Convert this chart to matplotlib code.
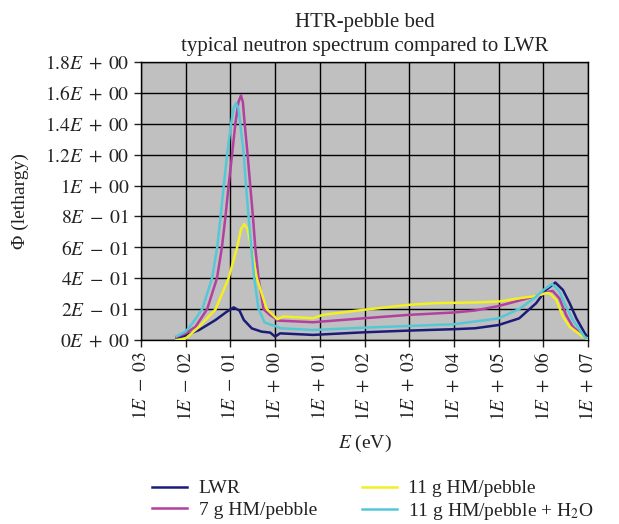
import numpy as np
import matplotlib
matplotlib.use("Agg")
import matplotlib.pyplot as plt

plt.rcParams['font.family'] = ['Liberation Serif', 'DejaVu Serif']
plt.rcParams['mathtext.fontset'] = 'stix'

# energies (eV) and flux per lethargy
lwr_e = [0.0063, 0.01, 0.02, 0.0468, 0.08, 0.1186, 0.16, 0.1995, 0.302, 0.501, 0.776,
         1.0, 1.29, 7.08, 100, 1000, 1e4, 3.0e4, 1e5, 2.88e5, 6.9e5, 1.15e6, 1.86e6,
         2.75e6, 3.89e6, 5.5e6, 8.5e6, 1e7]
lwr_y = [0.01, 0.03, 0.065, 0.13, 0.18, 0.211, 0.19, 0.13, 0.075, 0.054, 0.048,
         0.022, 0.043, 0.033, 0.05, 0.061, 0.07, 0.076, 0.097, 0.14, 0.238, 0.324, 0.372,
         0.324, 0.238, 0.14, 0.043, 0.015]

g7_e = [0.0063, 0.01, 0.0166, 0.0302, 0.0501, 0.0646, 0.0776, 0.0912, 0.109, 0.129,
        0.151, 0.1726, 0.19, 0.209, 0.2427, 0.278, 0.319, 0.36, 0.4266, 0.55, 0.78,
        1.0, 1.12, 7.08, 100, 1000, 1e4, 3e4, 1e5, 2.88e5, 6.9e5, 1.38e6, 1.62e6,
        2.29e6, 3.24e6, 4.57e6, 8.5e6, 1e7]
g7_y = [0.02, 0.043, 0.086, 0.2, 0.4, 0.6, 0.8, 1.0, 1.2, 1.4,
        1.54, 1.584, 1.54, 1.4, 1.2, 1.0, 0.8, 0.6, 0.4, 0.2, 0.16,
        0.141, 0.126, 0.115, 0.141, 0.163, 0.178, 0.191, 0.22, 0.255, 0.285, 0.314, 0.318,
        0.27, 0.162, 0.086, 0.017, 0.01]

g11_e = [0.0063, 0.01, 0.02, 0.0468, 0.0912, 0.141, 0.174, 0.2046, 0.24, 0.293, 0.389,
         0.653, 0.912, 1.12, 1.53, 7.08, 11.7, 100, 1000, 3980, 3e4, 1e5, 2.88e5,
         6.9e5, 1.15e6, 1.38e6, 1.95e6, 2.75e6, 3.89e6, 7.76e6, 1e7]
g11_y = [0.0, 0.01, 0.086, 0.2, 0.4, 0.6, 0.72, 0.75, 0.72, 0.6, 0.4,
         0.2, 0.16, 0.135, 0.152, 0.141, 0.163, 0.196, 0.228, 0.239, 0.243, 0.249, 0.27,
         0.285, 0.303, 0.303, 0.26, 0.151, 0.086, 0.02, 0.005]

h2o_e = [0.0063, 0.01, 0.0141, 0.0234, 0.0389, 0.0506, 0.0603, 0.0711, 0.0843, 0.1035,
         0.1175, 0.1337, 0.151, 0.166, 0.1995, 0.223, 0.255, 0.293, 0.341, 0.4266, 0.579,
         0.776, 1.0, 1.29, 7.08, 100, 1000, 1e4, 3e4, 1e5, 2.88e5, 6.9e5, 1.07e6,
         1.58e6, 2.29e6, 3.24e6, 4.57e6, 8.5e6, 1e7]
h2o_y = [0.025, 0.055, 0.108, 0.2, 0.4, 0.6, 0.8, 1.0, 1.2, 1.4,
         1.50, 1.534, 1.50, 1.4, 1.2, 1.0, 0.8, 0.6, 0.4, 0.2, 0.115,
         0.1, 0.091, 0.076, 0.065, 0.08, 0.091, 0.102, 0.12, 0.14, 0.2, 0.28, 0.33,
         0.363, 0.314, 0.216, 0.13, 0.017, 0.01]

yticks = [0.0, 0.2, 0.4, 0.6, 0.8, 1.0, 1.2, 1.4, 1.6, 1.8]
ytick_labels = ['0E+00', '2E-01', '4E-01', '6E-01', '8E-01', '1E+00',
                '1.2E+00', '1.4E+00', '1.6E+00', '1.8E+00']
xexp = [-3, -2, -1, 0, 1, 2, 3, 4, 5, 6, 7]
xtick_labels = ['1E-03', '1E-02', '1E-01', '1E+00', '1E+01', '1E+02',
                '1E+03', '1E+04', '1E+05', '1E+06', '1E+07']


def sci(s):
    return '$' + s.replace('+', r'\;+\;').replace('-', r'\;-\;') + '$'


fig = plt.figure(figsize=(6.19, 5.24), dpi=100)
ax = fig.add_axes([141/619, 1-340/524, (588-141)/619, (340-62)/524])
ax.set_facecolor('#c0c0c0')

lw = 1.8
ax.plot(lwr_e, lwr_y, color='#1c1c78', lw=lw, label='LWR', zorder=3)
ax.plot(g7_e, g7_y, color='#b3409f', lw=lw, label='7 g HM/pebble', zorder=3)
ax.plot(g11_e, g11_y, color='#f2f022', lw=lw, label='11 g HM/pebble', zorder=3)
ax.plot(h2o_e, h2o_y, color='#55c8d8', lw=lw, label='11 g HM/pebble + H$_2$O', zorder=4)

ax.set_xscale('log')
ax.set_xlim(1e-3, 1e7)
ax.set_ylim(0, 1.8)
ax.set_xticks([10.0**k for k in xexp])
ax.set_xticks([], minor=True)
ax.set_xticklabels([sci(s) for s in xtick_labels], rotation=90, fontsize=14)
ax.set_yticks(yticks)
ax.set_yticklabels([sci(s) for s in ytick_labels], fontsize=14)
ax.grid(True, color='black', lw=1.0, zorder=1)
ax.set_axisbelow(True)
for sp in ax.spines.values():
    sp.set_color('black')
    sp.set_linewidth(1.0)
ax.tick_params(direction='out', length=5, width=1, color='#222222', labelcolor='#222222')

ax.set_xlabel('$E$ (eV)', fontsize=14, color='#222222', labelpad=8)
ax.set_ylabel('Φ (lethargy)', fontsize=14, color='#222222')
ax.yaxis.set_label_coords(-0.25, 0.5)
ax.set_title('HTR-pebble bed\ntypical neutron spectrum compared to LWR',
             fontsize=15, color='#222222', linespacing=1.35, pad=8)

fig.legend(loc='center', bbox_to_anchor=(373/619, 1-501/524), ncol=2, frameon=False,
           fontsize=14, handlelength=1.8, handletextpad=0.6, columnspacing=2.3,
           labelspacing=0.2, labelcolor='#222222')

fig.savefig('out.png', dpi=100)
